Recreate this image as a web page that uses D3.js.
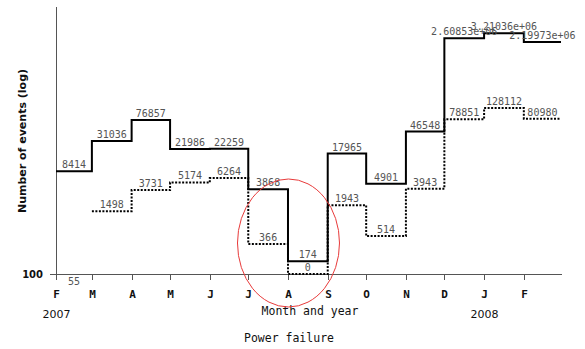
<!DOCTYPE html>
<html>
<head>
<meta charset="utf-8">
<script src="https://cdn.jsdelivr.net/npm/d3@7"></script>
<style>
  html, body { margin: 0; padding: 0; background: #fff; }
  svg { display: block; }
</style>
</head>
<body>
<svg id="chart" width="585" height="349"></svg>
<script>
// Monthly counts, Feb 2007 – Feb 2008
const months = ["2007-02","2007-03","2007-04","2007-05","2007-06","2007-07","2007-08",
                "2007-09","2007-10","2007-11","2007-12","2008-01","2008-02"];
const totalEvents = [8414, 31036, 76857, 21986, 22259, 3868, 174,
                     17965, 4901, 46548, 2608530, 3210360, 2199730];
const powerFailures = [55, 1498, 3731, 5174, 6264, 366, 0,
                       1943, 514, 3943, 78851, 128112, 80980];
const tickLetters = ["F","M","A","M","J","J","A","S","O","N","D","J","F"];
const yearLabels = [{ month: "2007-02", text: "2007" }, { month: "2008-01", text: "2008" }];
const yDomain = [100, 1e7];
const yTickValues = [100];

const parse = d3.timeParse("%Y-%m");
const dates = months.map(parse);
const endDate = d3.timeMonth.offset(dates[dates.length - 1], 1);

const svg = d3.select("#chart");
const plotLeft = 56, plotRight = 561, plotTop = 7, plotBottom = 274;

const x = d3.scaleTime().domain([dates[0], endDate]).range([plotLeft, plotRight]);
const y = d3.scaleLog().domain(yDomain).range([plotBottom, plotTop]);

// gnuplot-style %g labels
function fmtG(v) {
  let s = d3.format(".6~g")(v);
  return s.replace(/e([+-])(\d)$/, "e$10$2");
}

const monoFont = "'DejaVu Sans Mono', monospace";
const sansFont = "'DejaVu Sans', sans-serif";

// Axes
svg.append("line")
  .attr("x1", plotLeft + 0.5).attr("x2", plotLeft + 0.5)
  .attr("y1", plotTop).attr("y2", plotBottom)
  .attr("stroke", "#555").attr("stroke-width", 1);
svg.append("line")
  .attr("x1", 50).attr("x2", plotRight + 1)
  .attr("y1", plotBottom + 0.5).attr("y2", plotBottom + 0.5)
  .attr("stroke", "#555").attr("stroke-width", 1);

// y tick
yTickValues.forEach(v => {
  svg.append("text")
    .attr("x", 43).attr("y", y(v) + 4)
    .attr("text-anchor", "end")
    .attr("font-family", sansFont).attr("font-size", 10).attr("font-weight", "bold")
    .attr("fill", "#111")
    .text(v);
});

// x ticks
dates.forEach((d, i) => {
  const xx = Math.round(x(d)) + 0.5;
  svg.append("line")
    .attr("x1", xx).attr("x2", xx)
    .attr("y1", plotBottom).attr("y2", plotBottom + 6)
    .attr("stroke", "#555");
  svg.append("text")
    .attr("x", xx).attr("y", 298)
    .attr("text-anchor", "middle")
    .attr("font-family", monoFont).attr("font-size", 11).attr("font-weight", "bold")
    .attr("fill", "#111")
    .text(tickLetters[i]);
});

yearLabels.forEach(l => {
  svg.append("text")
    .attr("x", x(parse(l.month)) + 0.5).attr("y", 318)
    .attr("text-anchor", "middle")
    .attr("font-family", sansFont).attr("font-size", 11)
    .attr("fill", "#111")
    .text(l.text);
});

svg.append("text")
  .attr("x", 310).attr("y", 315)
  .attr("text-anchor", "middle")
  .attr("font-family", monoFont).attr("font-size", 11.5)
  .attr("fill", "#111")
  .text("Month and year");

svg.append("text")
  .attr("x", 289).attr("y", 342)
  .attr("text-anchor", "middle")
  .attr("font-family", monoFont).attr("font-size", 11.5)
  .attr("fill", "#111")
  .text("Power failure");

svg.append("text")
  .attr("transform", "translate(26,141) rotate(-90)")
  .attr("text-anchor", "middle")
  .attr("font-family", sansFont).attr("font-size", 11).attr("font-weight", "bold")
  .attr("fill", "#111")
  .text("Number of events (log)");

// Step series: each month's level runs to the start of the next month.
// Points below the axis floor are dropped; zero counts are pinned to the floor.
function stepPoints(values) {
  const pts = values.map((v, i) => ({ date: dates[i], v }));
  pts.push({ date: endDate, v: values[values.length - 1] });
  return pts;
}
const yPath = v => v === 0 ? y(yDomain[0]) : y(v);
const line = d3.line()
  .curve(d3.curveStepAfter)
  .defined(p => p.v === 0 || p.v >= yDomain[0])
  .x(p => x(p.date))
  .y(p => yPath(p.v));

svg.append("path")
  .datum(stepPoints(powerFailures))
  .attr("d", line)
  .attr("fill", "none")
  .attr("stroke", "#000").attr("stroke-width", 2)
  .attr("stroke-dasharray", "2,1.5");

svg.append("path")
  .datum(stepPoints(totalEvents))
  .attr("d", line)
  .attr("fill", "none")
  .attr("stroke", "#000").attr("stroke-width", 2);

// Value labels centred over each month's segment
function addLabels(values) {
  values.forEach((v, i) => {
    const xm = (x(dates[i]) + x(i + 1 < dates.length ? dates[i + 1] : endDate)) / 2;
    const yy = v === 0 ? y(yDomain[0]) : y(v);
    svg.append("text")
      .attr("x", xm).attr("y", yy - 3)
      .attr("text-anchor", "middle")
      .attr("font-family", monoFont).attr("font-size", 10)
      .attr("fill", "#555")
      .text(fmtG(v));
  });
}
addLabels(totalEvents);
addLabels(powerFailures);

// Highlight ring around the August dip
svg.append("ellipse")
  .attr("cx", x(parse("2007-08")) + 0.5).attr("cy", 243)
  .attr("rx", 51).attr("ry", 64)
  .attr("fill", "none")
  .attr("stroke", "#e83a3a").attr("stroke-width", 1);
</script>
</body>
</html>
